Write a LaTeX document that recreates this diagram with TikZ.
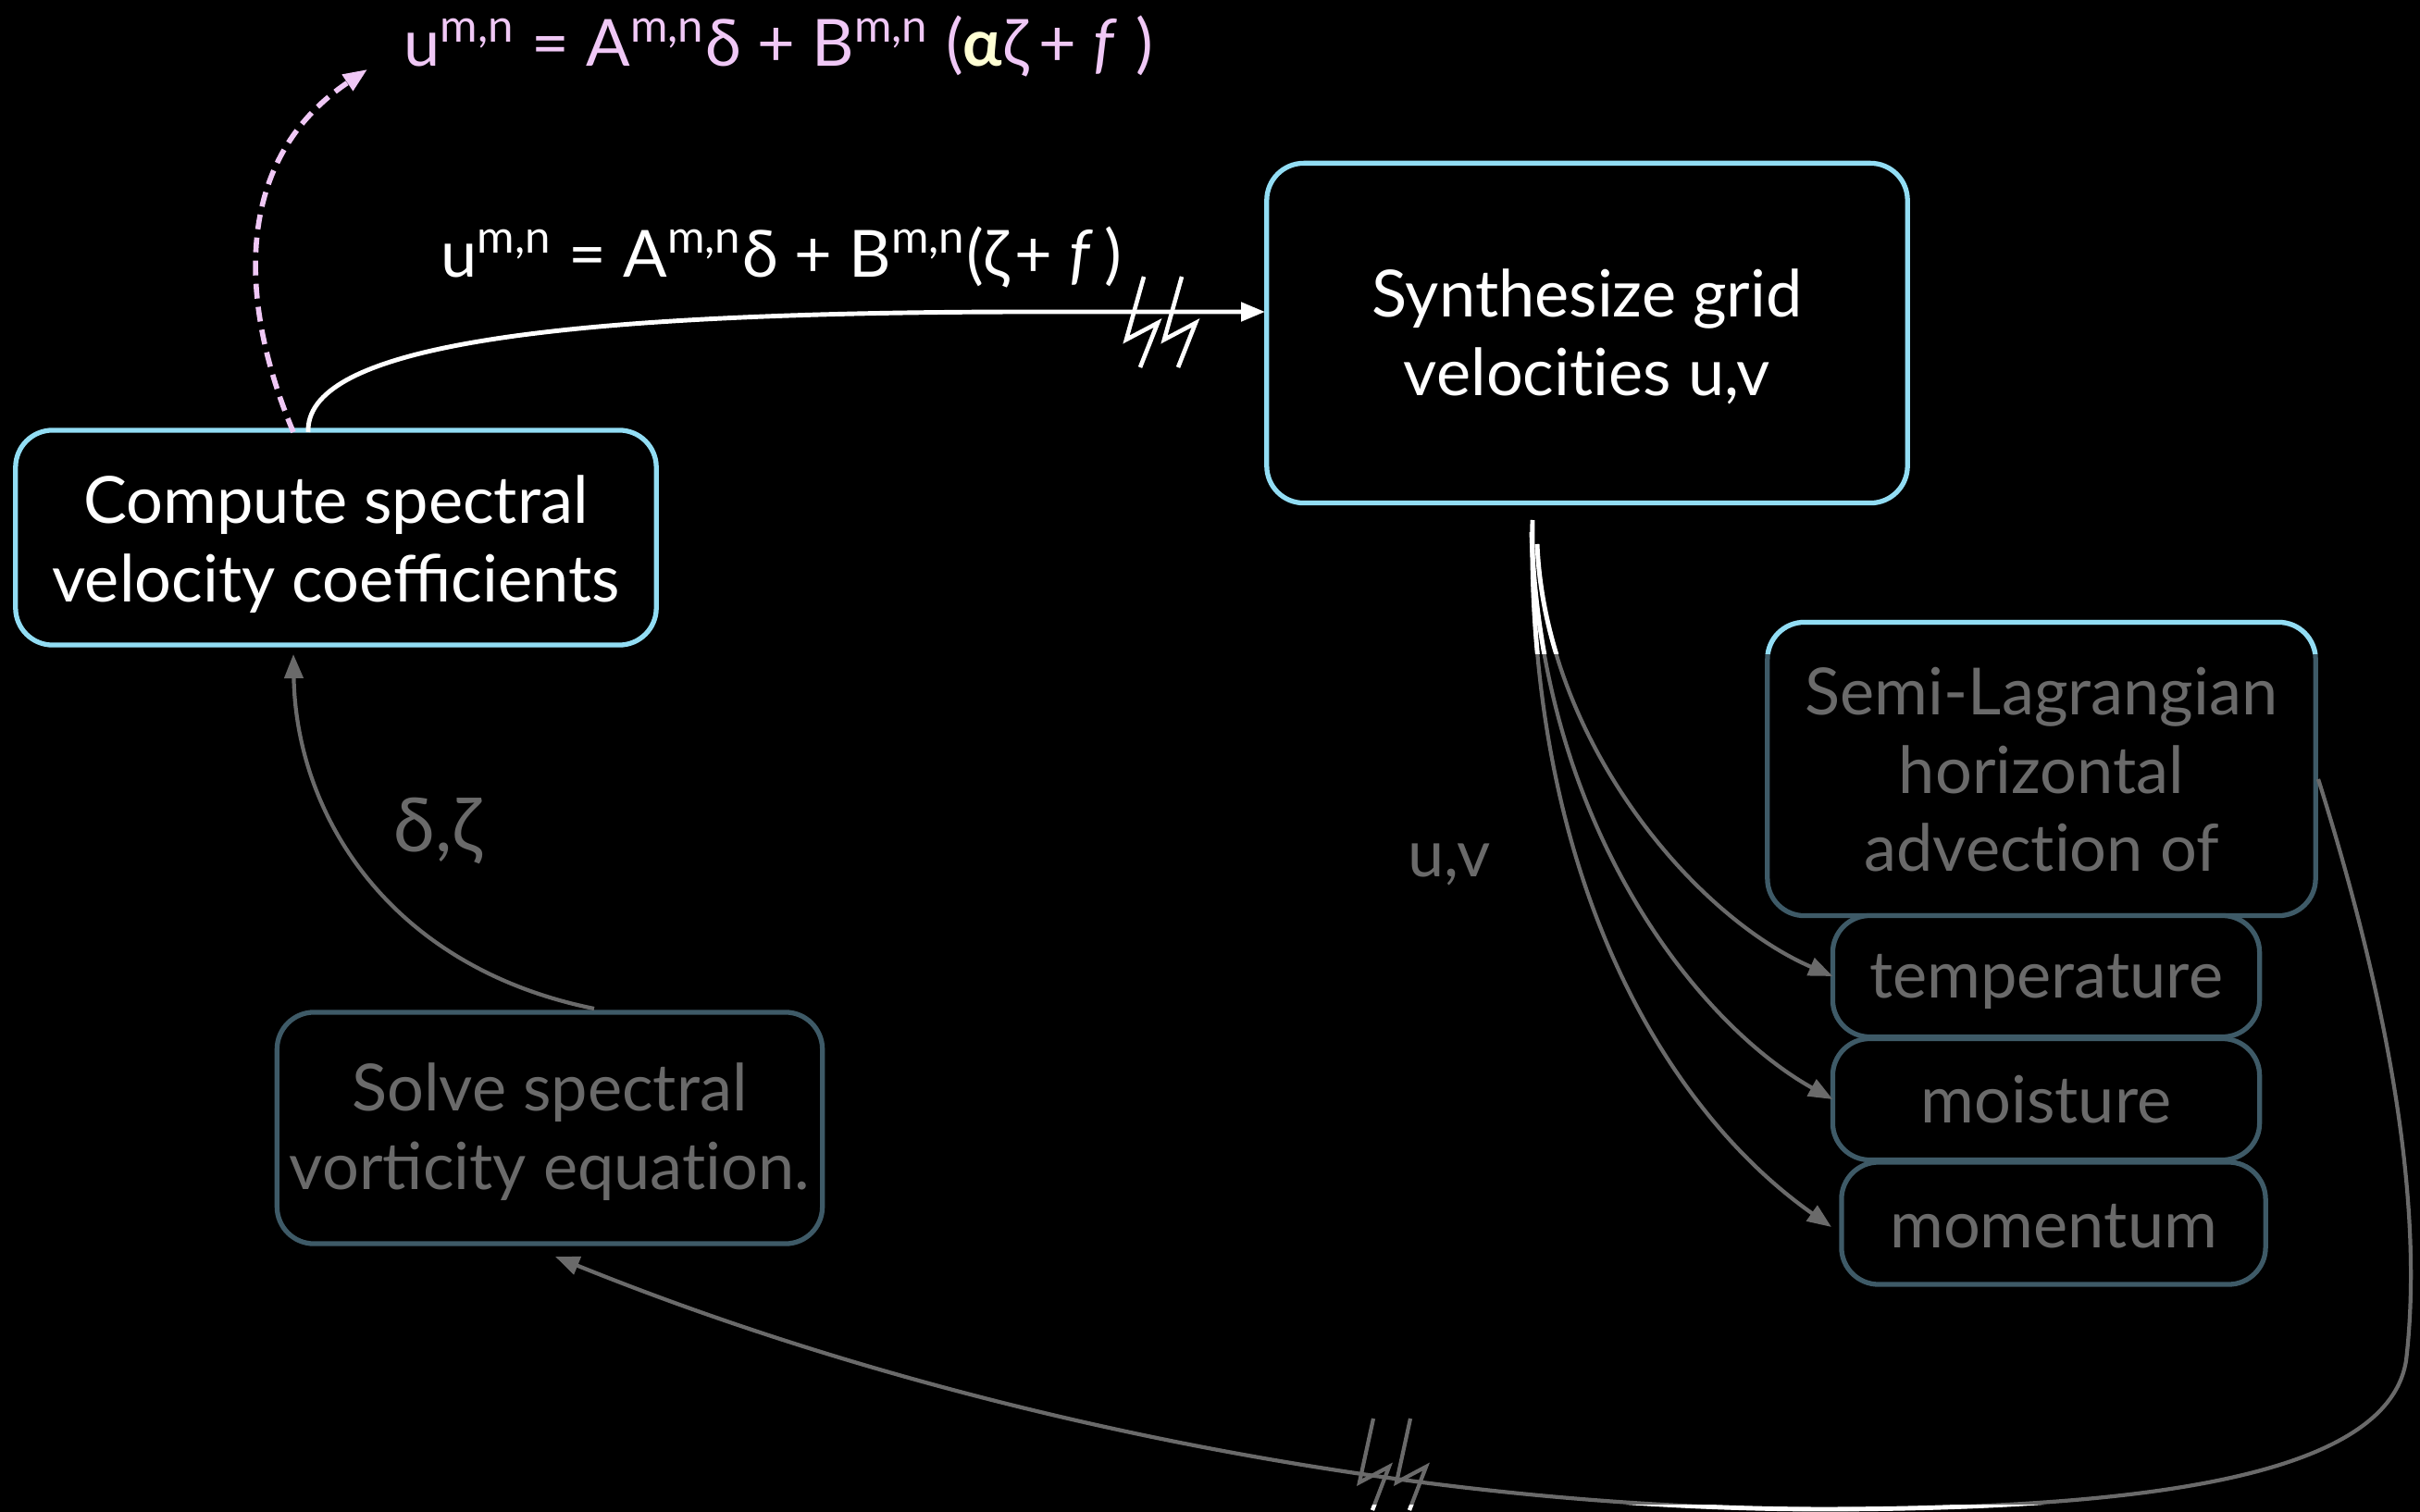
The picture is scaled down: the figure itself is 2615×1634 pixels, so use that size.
\documentclass[tikz,border=0pt]{standalone}
\usepackage{fontspec}
\setmainfont{Lato}
\newfontfamily\nolig{Lato}[RawFeature={-liga;-clig;-calt;-dlig}]
\usetikzlibrary{arrows.meta,calc}
\definecolor{hl}{HTML}{92DDF4}
\definecolor{dimb}{HTML}{3E5A67}
\definecolor{dimt}{HTML}{6A6A6A}
\definecolor{pinkf}{HTML}{F0C8F6}
\definecolor{yelf}{HTML}{FFFFD4}
\newcommand\btext[2]{\smash{\raisebox{#1}{\begin{tabular}[t]{@{}c@{}}#2\end{tabular}}}}
\begin{document}
\begin{tikzpicture}[x=0.01cm,y=-0.01cm,
  box/.style={draw, rounded corners=0.4cm, line width=1.5pt, fill=black, inner sep=0pt, outer sep=0pt, font=\fontsize{20}{24.1}\selectfont},
  brightbox/.style={box, draw=hl, text=white},
  dimbox/.style={box, draw=dimb, text=dimt},
  arr/.style={-{Triangle[length=0.26cm,width=0.2cm]}},
  wline/.style={white, line width=1.4pt},
  gline/.style={dimt, line width=1.2pt},
  lbl/.style={font=\fontsize{20}{24}\selectfont, inner sep=0pt, anchor=base west},
  topbolt/.pic={\draw[white, line width=1.3pt, line join=miter] (12,-37) -- (-7,31) -- (27,13) -- (8,61);},
  botbolt/.pic={\draw[line width=1.2pt, line join=miter] (4,-57) -- (-11,12) -- (21,-5) -- (3,42);}]
\fill[black] (0,0) rectangle (2615,1634);
\useasboundingbox (0,0) rectangle (2615,1634);

% boxes
\node[brightbox, minimum width=6.92cm, minimum height=2.32cm] (comp) at (363,581) {\btext{0.155cm}{Compute spectral\\velocity coefficients}};
\node[brightbox, minimum width=6.92cm, minimum height=3.67cm] (synth) at (1715,360) {\btext{0.175cm}{Synthesize grid\\{\nolig velocities} u,v}};
\node[dimbox, minimum width=5.89cm, minimum height=2.5cm] (solve) at (594,1219) {\btext{0.18cm}{Solve spectral\\vorticity {\nolig equation.}}};
\node[dimbox, minimum width=5.92cm, minimum height=3.17cm] (semi) at (2206,831) {\btext{0.585cm}{Semi-Lagrangian\\horizontal\\{\nolig advection} of}};
\node[dimbox, minimum width=4.61cm, minimum height=1.31cm] (temp) at (2211,1055) {\btext{-0.23cm}{temperature}};
\node[dimbox, minimum width=4.61cm, minimum height=1.31cm] (moist) at (2211,1188) {\btext{-0.255cm}{moisture}};
\node[dimbox, minimum width=4.58cm, minimum height=1.32cm] (mom) at (2219,1322) {\btext{-0.265cm}{momentum}};
\begin{scope}
  \clip (0,0) rectangle (2615,707);
  \draw[hl, line width=1.5pt, rounded corners=0.4cm] (semi.south west) rectangle (semi.north east);
\end{scope}

% labels
\node[lbl, text=pinkf] (f1) at (436,72) {u\textsuperscript{m,n} = A\textsuperscript{m,n}δ + B\textsuperscript{m,n} ({\color{yelf}\bfseries α}ζ\hspace{0.12cm}+ \textit{f}\hspace{0.2cm})};
\node[lbl, text=white] (f2) at (476,300) {u\textsuperscript{m,n} = A\textsuperscript{m,n}δ + B\textsuperscript{m,n}(ζ\hspace{0.06cm}+ \textit{f}\hspace{0.12cm})};
\node[lbl, text=dimt, font=\fontsize{23}{26}\selectfont] (dz) at (425,920) {δ,ζ};
\node[lbl, text=dimt] (uv) at (1521,947) {u,v};

% coordinates
\coordinate (cw) at (333,467);
\coordinate (cp) at (317,467);
\coordinate (pe) at (397,75);
\coordinate (se) at (1367,337);
\coordinate (ss) at (642,1090);
\coordinate (cb) at (317,707);
\coordinate (s1) at (1661,588);
\coordinate (s2) at (1655,575);
\coordinate (s3) at (1656,562);
\coordinate (me) at (1979,1326);
\coordinate (sr) at (2505,842);
\coordinate (sb) at (600,1358);

% connectors
\draw[wline, arr] (cw) .. controls (330,380) and (560,338) .. (1100,337) -- (se);
\draw[pinkf, line width=1.6pt, dash pattern=on 0.16cm off 0.09cm, arr] (cp) .. controls (255,320) and (255,170) .. (pe);
\draw[gline, arr] (ss) .. controls (420,1045) and (320,880) .. (cb);

\draw[gline, arr] (s1) .. controls (1670,800) and (1830,990) .. (temp.west);
\draw[gline, arr] (s2) .. controls (1665,900) and (1840,1110) .. (moist.west);
\draw[gline, arr] (s3) .. controls (1650,950) and (1800,1200) .. (me);
\begin{scope}
  \clip (0,0) rectangle (2615,707);
  \draw[wline] (s1) .. controls (1670,800) and (1830,990) .. (temp.west);
  \draw[wline] (s2) .. controls (1665,900) and (1840,1110) .. (moist.west);
  \draw[wline] (s3) .. controls (1650,950) and (1800,1200) .. (me);
\end{scope}

\draw[gline, arr] (sr) .. controls (2580,1080) and (2620,1300) .. (2600,1470) .. controls (2580,1600) and (2300,1630) .. (1974,1631) .. controls (1500,1631) and (1000,1520) .. (sb);
\pic[dimt] at (1480,1590) {botbolt};
\pic[dimt] at (1520,1590) {botbolt};
\begin{scope}
  \clip (0,1626) rectangle (2615,1634);
  \draw[wline] (sr) .. controls (2580,1080) and (2620,1300) .. (2600,1470) .. controls (2580,1600) and (2300,1630) .. (1974,1631) .. controls (1500,1631) and (1000,1520) .. (sb);
  \pic[white] at (1480,1590) {botbolt};
  \pic[white] at (1520,1590) {botbolt};
\end{scope}

\pic at (1224,336) {topbolt};
\pic at (1265,336) {topbolt};
\end{tikzpicture}
\end{document}
